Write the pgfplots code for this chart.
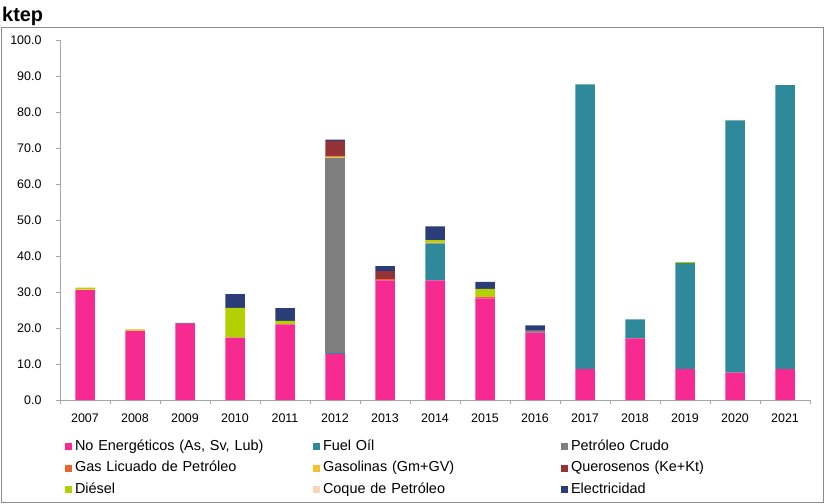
\documentclass[border=0pt]{standalone}
\usepackage{pgfplots}
\pgfplotsset{compat=1.18}
\usepackage{pgfplotstable}
\usepackage{fontspec}
\setmainfont{Liberation Sans}

\definecolor{cNoEn}{HTML}{F72A92}
\definecolor{cFuel}{HTML}{2E8A9B}
\definecolor{cCrudo}{HTML}{7F7F7F}
\definecolor{cGLP}{HTML}{E8662E}
\definecolor{cGas}{HTML}{F5BF30}
\definecolor{cQuer}{HTML}{943236}
\definecolor{cDies}{HTML}{B3D000}
\definecolor{cCoque}{HTML}{FAD4B8}
\definecolor{cElec}{HTML}{2B3D78}
\definecolor{cAxis}{HTML}{A6A6A6}
\definecolor{cFrame}{HTML}{8C8C8C}

% ktep por fuente, 2007-2021 (x = 0..14)
\pgfplotstableread{
x  noen fuel crudo glp gas quer dies coque elec
0  30.5 0    0     0   0.2 0    0.5  0     0
1  19.2 0    0     0   0.1 0    0.3  0     0
2  21.2 0    0     0   0   0    0    0     0.2
3  17.3 0    0     0   0   0    8.3  0     3.8
4  21.0 0    0     0   0   0    1.0  0     3.5
5  12.8 0.3  54.0  0.1 0.4 4.4  0    0     0.3
6  33.2 0    0     0.4 0   2.2  0    0     1.4
7  33.2 10.3 0     0   0.4 0    0.5  0     3.8
8  28.2 0    0     0.5 0   0    2.2  0     1.9
9  18.7 0.3  0     0   0   0.3  0    0     1.4
10 8.6  79.1 0     0   0   0    0    0     0
11 17.1 5.3  0     0   0   0    0    0     0
12 8.6  29.4 0     0   0   0    0.3  0     0
13 7.6  70.1 0     0   0   0    0    0     0
14 8.6  78.9 0     0   0   0    0    0     0
}\datos

\begin{document}
\begin{tikzpicture}
\useasboundingbox (0bp,0bp) rectangle (825bp,-504bp);
\draw[cFrame, line width=0.8bp] (1.5bp,-27.5bp) rectangle (823.5bp,-502.5bp);
\node[anchor=base west, inner sep=0pt, font=\fontsize{20}{24}\selectfont\bfseries] at (2bp,-21bp) {ktep};

\begin{axis}[
    at={(60bp,-400bp)}, anchor=south west,
    scale only axis, width=750bp, height=360bp,
    ybar stacked, bar width=19.5bp,
    xmin=-0.5, xmax=14.5, ymin=0, ymax=100,
    axis x line*=bottom, axis y line*=left,
    axis line style={cAxis, line width=1bp},
    tick align=outside, major tick length=4bp, minor tick length=4bp,
    tick style={cAxis, line width=0.8bp},
    xtick={0,...,14},
    xticklabels={2007,2008,2009,2010,2011,2012,2013,2014,2015,2016,2017,2018,2019,2020,2021},
    major x tick style={draw=none},
    minor xtick={-0.5,0.5,...,14.5},
    minor x tick style={cAxis, line width=0.8bp},
    ytick={0,10,...,100},
    tick label style={font=\fontsize{12.5}{14}\selectfont, black},
    x tick label style={yshift=-6bp},
    y tick label style={xshift=-11bp,
        /pgf/number format/fixed, /pgf/number format/fixed zerofill,
        /pgf/number format/precision=1, /pgf/number format/assume math mode=true},
    legend image code/.code={\fill[#1] (0bp,-3.5bp) rectangle (7bp,3.5bp);},
    legend columns=3,
    legend cell align=left,
    legend style={at={(0.0067,-0.111)}, anchor=north west, draw=none, fill=none,
        inner sep=0pt, outer sep=0pt, row sep=8bp,
        font=\fontsize{14.5}{17}\selectfont,
        nodes={inner sep=0pt, text height=10.5bp, text depth=3bp, text width=230bp, align=left},
        /tikz/every odd column/.append style={column sep=3bp},
        /tikz/every even column/.append style={column sep=8bp}},
]
\addplot[fill=cNoEn, draw=none] table[x=x, y=noen] {\datos};
\addlegendentry{No Energéticos (As, Sv, Lub)}
\addplot[fill=cFuel, draw=none] table[x=x, y=fuel] {\datos};
\addlegendentry{Fuel Oíl}
\addplot[fill=cCrudo, draw=none] table[x=x, y=crudo] {\datos};
\addlegendentry{Petróleo Crudo}
\addplot[fill=cGLP, draw=none] table[x=x, y=glp] {\datos};
\addlegendentry{Gas Licuado de Petróleo}
\addplot[fill=cGas, draw=none] table[x=x, y=gas] {\datos};
\addlegendentry{Gasolinas (Gm+GV)}
\addplot[fill=cQuer, draw=none] table[x=x, y=quer] {\datos};
\addlegendentry{Querosenos (Ke+Kt)}
\addplot[fill=cDies, draw=none] table[x=x, y=dies] {\datos};
\addlegendentry{Diésel}
\addplot[fill=cCoque, draw=none] table[x=x, y=coque] {\datos};
\addlegendentry{Coque de Petróleo}
\addplot[fill=cElec, draw=none] table[x=x, y=elec] {\datos};
\addlegendentry{Electricidad}
\end{axis}
\end{tikzpicture}
\end{document}
